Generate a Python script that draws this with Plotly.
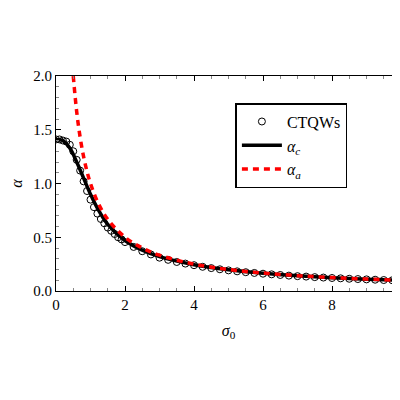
import plotly.graph_objects as go

sig_q = [0,0.1,0.2,0.3,0.4,0.5,0.6,0.7,0.8,0.9,1.0,1.1,1.2,1.3,1.4,1.5,1.6,1.7,1.8,1.9,2.0,
         2.25,2.5,2.75,3,3.25,3.5,3.75,4,4.25,4.5,4.75,5,5.25,5.5,5.75,6,6.25,6.5,6.75,7,
         7.25,7.5,7.75,8,8.25,8.5,8.75,9,9.25,9.5,9.75,10]
alpha_q = [1.41,1.41,1.40,1.39,1.36,1.30,1.22,1.12,1.02,0.93,0.85,0.78,0.72,0.67,0.63,0.59,0.56,0.53,0.50,0.48,0.455,
           0.41,0.37,0.34,0.31,0.29,0.27,0.255,0.24,0.225,0.213,0.202,0.192,0.183,0.175,0.168,0.161,0.155,0.149,0.143,0.138,
           0.134,0.129,0.125,0.121,0.118,0.114,0.111,0.108,0.105,0.102,0.100,0.097]
sig_c = [0,0.2,0.4,0.6,0.8,1.0,1.2,1.5,2,2.5,3,4,5,6,7,8,9,10]
alpha_c = [1.41,1.40,1.33,1.20,1.05,0.90,0.77,0.62,0.47,0.38,0.32,0.245,0.197,0.165,0.142,0.124,0.110,0.099]
sig_a = [0.5,0.6,0.7,0.8,0.9,1,1.2,1.5,2,2.5,3,4,5,6,7,8,9,10]
alpha_a = [2,1.667,1.429,1.25,1.111,1,0.833,0.667,0.5,0.4,0.333,0.25,0.2,0.167,0.143,0.125,0.111,0.1]

FONT = "Liberation Serif"
fig = go.Figure()
fig.add_trace(go.Scatter(x=sig_q, y=alpha_q, mode="markers", name="CTQWs",
    marker=dict(symbol="circle-open", size=7, color="black", line=dict(width=1))))
fig.add_trace(go.Scatter(x=sig_c, y=alpha_c, mode="lines", name="<i>α<sub>c</sub></i>",
    line=dict(color="black", width=3.5, shape="spline")))
fig.add_trace(go.Scatter(x=sig_a, y=alpha_a, mode="lines", name="<i>α<sub>a</sub></i>",
    line=dict(color="red", width=3.5, dash="6px,5px", shape="spline")))

ax = dict(showline=True, linecolor="black", mirror="allticks", ticks="inside", ticklen=5,
          tickcolor="black", showgrid=False, zeroline=False, automargin=False,
          tickfont=dict(family=FONT, size=15, color="black"))
fig.update_layout(width=400, height=400, paper_bgcolor="white", plot_bgcolor="white",
    margin=dict(l=48, r=7, t=68, b=117),
    font=dict(family=FONT, color="black"),
    xaxis=dict(ax, range=[0, 10], dtick=2, minor=dict(ticks="inside", ticklen=3, tickcolor="#888", dtick=0.5),
               title=dict(text="<i>σ</i><sub>0</sub>", font=dict(family=FONT, size=16), standoff=12)),
    yaxis=dict(ax, range=[0, 2], dtick=0.5, tickformat=".1f",
               minor=dict(ticks="inside", ticklen=3, tickcolor="#888", dtick=0.1),
               title=dict(text="<i>α</i>", font=dict(family=FONT, size=16), standoff=8)),
    legend=dict(x=0.52, y=0.874, xanchor="left", yanchor="top", bordercolor="black", borderwidth=1.5,
                bgcolor="white", font=dict(family=FONT, size=16), itemwidth=40, tracegroupgap=0),
    showlegend=True)
fig.write_html("out.html")
